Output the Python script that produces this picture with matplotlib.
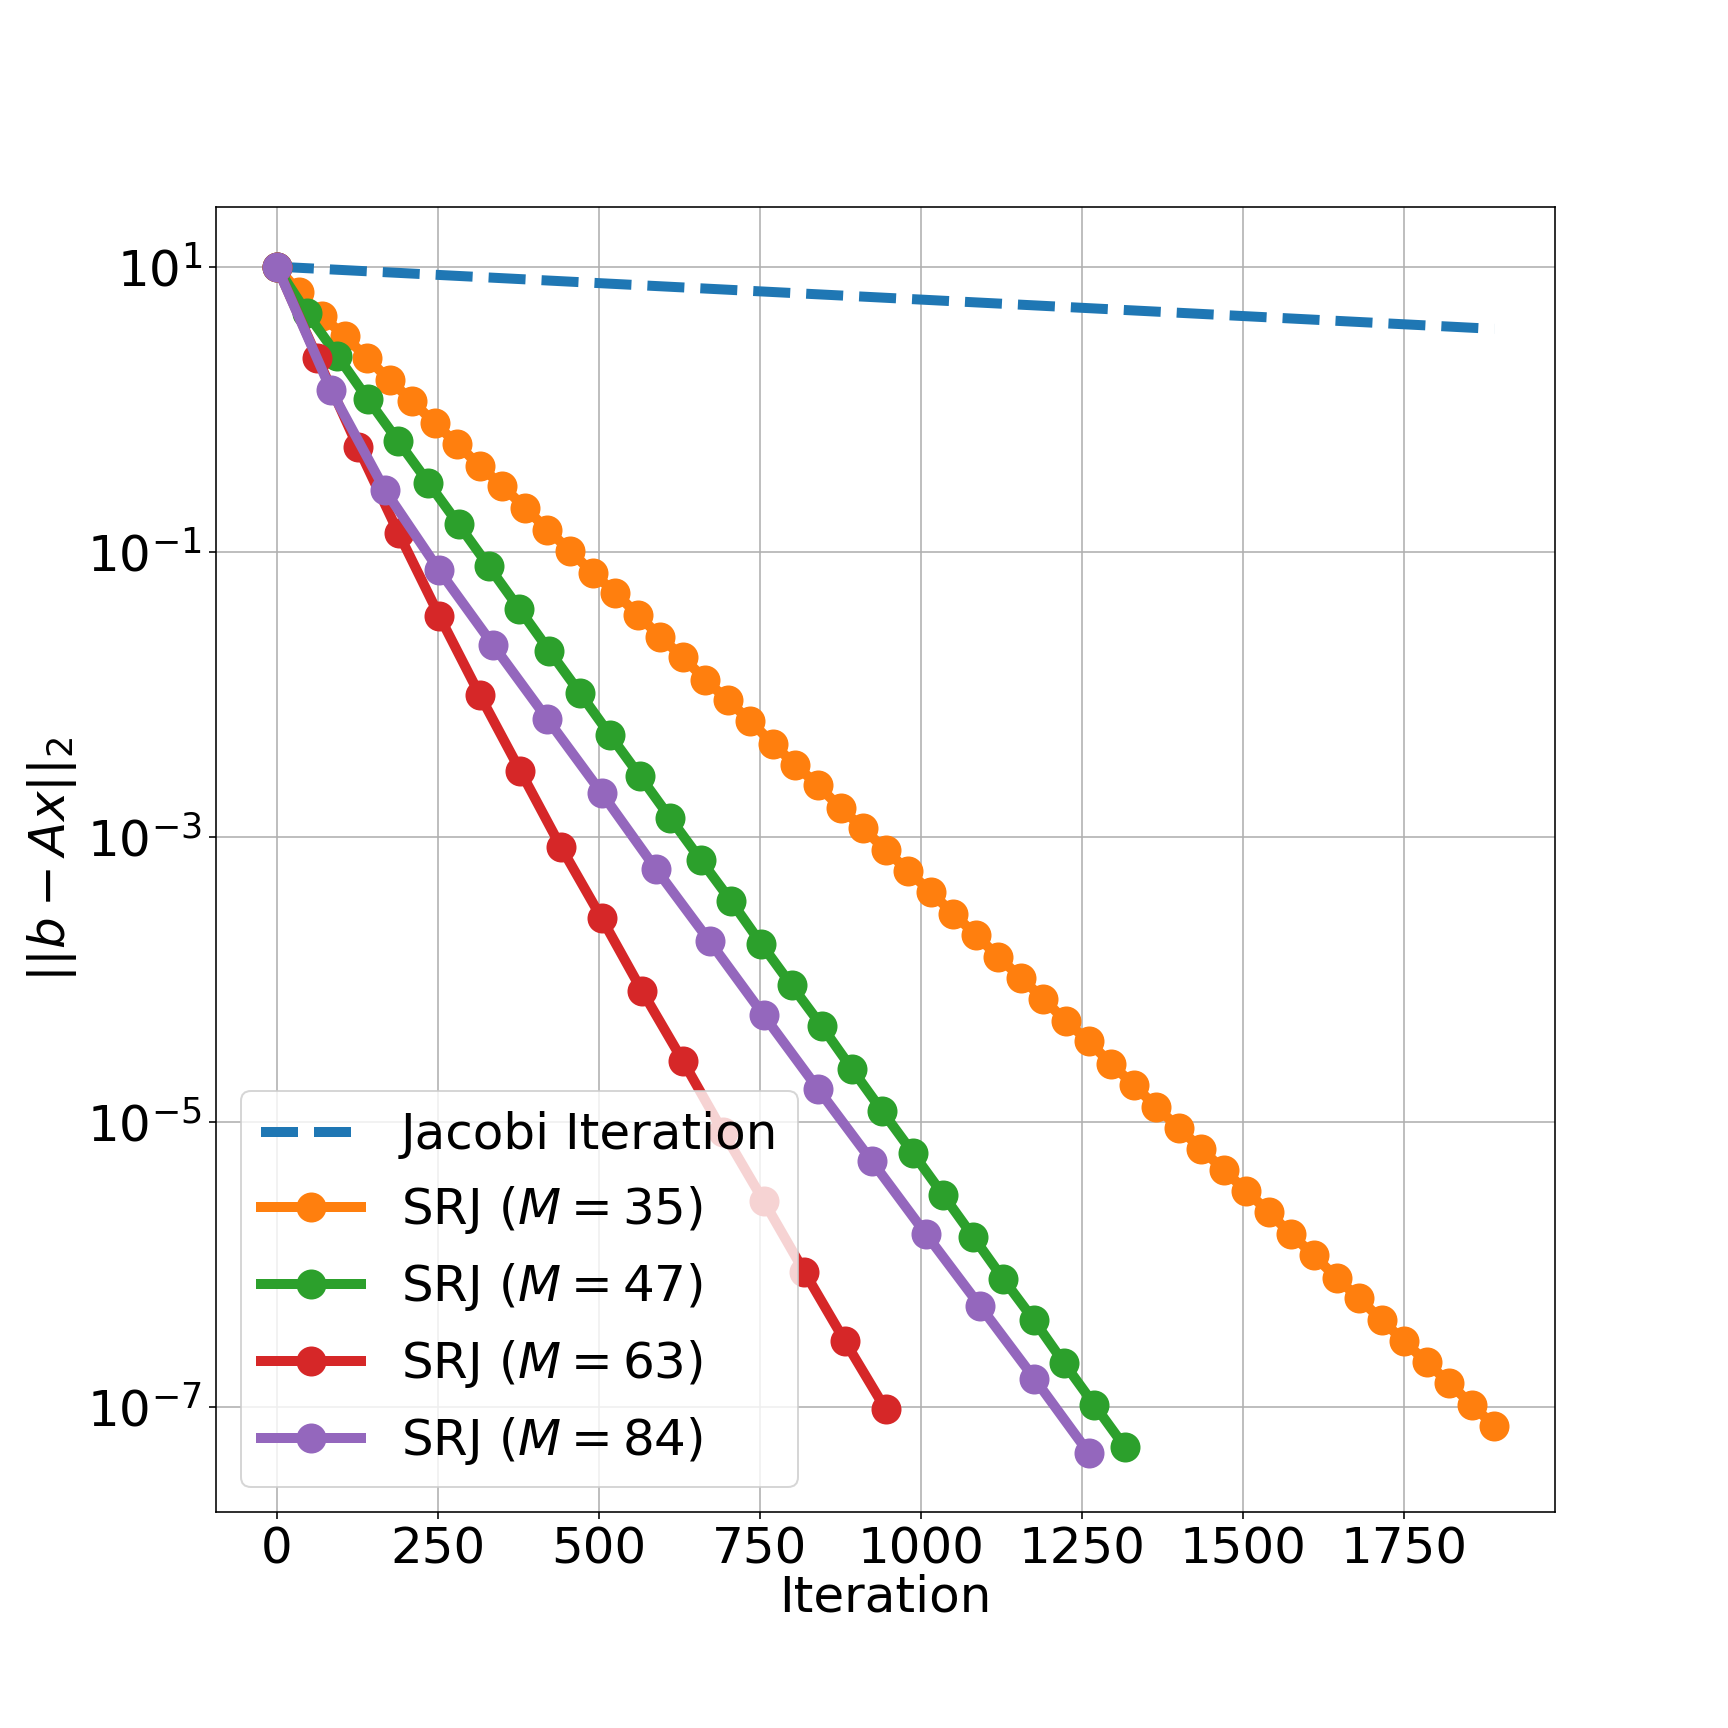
import numpy as np
import matplotlib
matplotlib.use('Agg')
import matplotlib.pyplot as plt
from matplotlib.ticker import NullLocator

plt.rcParams['font.size'] = 25

## Jacobi iteration (straight line on the log axis)
jacobi_iter = [0, 1890]
jacobi_res = [10.0, 3.66]

## SRJ cycles, one marker per cycle of length M
M_vals = [35, 47, 63, 84]

res_35 = [10.0, 6.6, 4.5, 3.27, 2.29, 1.60, 1.14, 0.80, 0.57, 0.40,
          0.29, 0.204, 0.143, 0.102, 0.0713, 0.0518, 0.0363, 0.0254, 0.0182, 0.0127,
          9.1e-3, 6.5e-3, 4.5e-3, 3.2e-3, 2.3e-3, 1.6e-3, 1.15e-3, 8.1e-4, 5.8e-4, 4.1e-4,
          2.9e-4, 2.06e-4, 1.44e-4, 1.03e-4, 7.3e-5, 5.1e-5, 3.7e-5, 2.56e-5, 1.83e-5, 1.28e-5,
          9.1e-6, 6.5e-6, 4.6e-6, 3.3e-6, 2.33e-6, 1.63e-6, 1.16e-6, 8.1e-7, 5.8e-7, 4.1e-7,
          2.9e-7, 2.07e-7, 1.48e-7, 1.04e-7, 7.4e-8]

res_47 = [10.0, 4.7, 2.37, 1.18, 0.60, 0.306, 0.156, 0.079, 0.040, 0.0202,
          0.0103, 5.2e-3, 2.66e-3, 1.35e-3, 6.9e-4, 3.56e-4, 1.78e-4, 9.1e-5, 4.7e-5, 2.35e-5,
          1.19e-5, 6.1e-6, 3.1e-6, 1.57e-6, 7.9e-7, 4.1e-7, 2.04e-7, 1.04e-7, 5.3e-8]

res_63 = [10.0, 2.29, 0.54, 0.135, 0.0356, 9.9e-3, 2.9e-3, 8.5e-4, 2.7e-4, 8.3e-5,
          2.7e-5, 8.5e-6, 2.78e-6, 8.9e-7, 2.9e-7, 9.7e-8]

res_84 = [10.0, 1.36, 0.27, 0.074, 0.0221, 6.7e-3, 2.04e-3, 6.0e-4, 1.85e-4, 5.6e-5,
          1.71e-5, 5.3e-6, 1.63e-6, 5.1e-7, 1.59e-7, 4.8e-8]

srj_res = [res_35, res_47, res_63, res_84]

y_ticks = [1e1, 1e-1, 1e-3, 1e-5, 1e-7]
x_ticks = [0, 250, 500, 750, 1000, 1250, 1500, 1750]

fig, ax = plt.subplots(figsize=(12, 12))
fig.subplots_adjust(left=0.125, right=0.9, top=0.88, bottom=0.125)

ax.plot(jacobi_iter, jacobi_res, '--', lw=5, label='Jacobi Iteration')
for M, res in zip(M_vals, srj_res):
    it = np.arange(len(res)) * M
    ax.plot(it, res, '-o', lw=5, ms=14, label=rf'SRJ ($M={M}$)')

ax.set_yscale('log')
ax.set_yticks(y_ticks)
ax.yaxis.set_minor_locator(NullLocator())
ax.set_xticks(x_ticks)
ax.set_xlabel('Iteration', labelpad=0)
ax.set_ylabel(r'$||b-Ax||_2$')
ax.grid(True)
ax.legend(loc='lower left')
plt.savefig('out.png', dpi=144)
